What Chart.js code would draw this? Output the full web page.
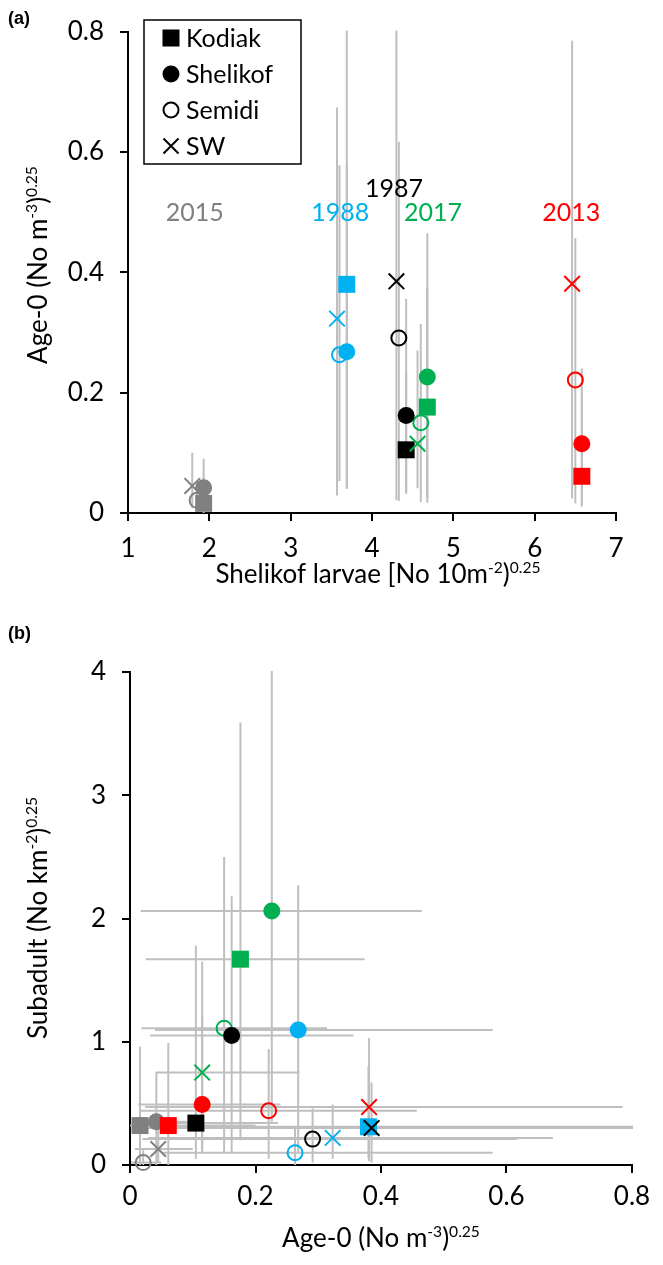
<!DOCTYPE html>
<html lang="en">
<head>
  <meta charset="UTF-8">
  <title>Larvae, age-0 and subadult indices</title>
  <script src="https://cdn.jsdelivr.net/npm/chart.js@4.4.0/dist/chart.umd.min.js"></script>
  <style>
    body { margin: 0; background: #fff; }
    .panel { position: absolute; left: 0; }
    #wrapA { top: 0; }
    #wrapB { top: 600px; }
  </style>
</head>
<body>
  <div class="panel" id="wrapA"><canvas id="chartA" width="663" height="600"></canvas></div>
  <div class="panel" id="wrapB"><canvas id="chartB" width="663" height="665"></canvas></div>

<script>
  // years (rows) x regions (columns)
  const regions = ['Kodiak', 'Shelikof', 'Semidi', 'SW'];
  const years = ['2015', '1988', '1987', '2017', '2013'];
  const yearColors = ['#808080', '#00B0F0', '#000000', '#00B050', '#FF0000'];

  // Shelikof larvae [No 10m-2]^0.25
  const larvae = [
    [1.93, 1.93, 1.85, 1.79],
    [3.69, 3.69, 3.60, 3.57],
    [4.42, 4.42, 4.33, 4.30],
    [4.68, 4.68, 4.60, 4.56],
    [6.58, 6.58, 6.50, 6.46]
  ];
  // Age-0 (No m-3)^0.25 and its range
  const age0 = [
    [0.016, 0.042, 0.021, 0.045],
    [0.380, 0.268, 0.263, 0.323],
    [0.105, 0.162, 0.291, 0.385],
    [0.176, 0.226, 0.150, 0.115],
    [0.061, 0.115, 0.221, 0.381]
  ];
  const age0Low = [
    [0.000, 0.005, 0.002, 0.008],
    [0.042, 0.040, 0.053, 0.029],
    [0.035, 0.032, 0.020, 0.021],
    [0.025, 0.017, 0.018, 0.041],
    [0.011, 0.013, 0.016, 0.024]
  ];
  const age0High = [
    [0.060, 0.090, 0.050, 0.100],
    [0.830, 0.578, 0.578, 0.674],
    [0.236, 0.356, 0.617, 0.830],
    [0.374, 0.465, 0.314, 0.270],
    [0.200, 0.240, 0.457, 0.785]
  ];
  // Subadult (No km-2)^0.25 and its range
  const subadult = [
    [0.32, 0.35, 0.02, 0.13],
    [0.31, 1.095, 0.10, 0.22],
    [0.34, 1.05, 0.21, 0.30],
    [1.67, 2.06, 1.11, 0.75],
    [0.32, 0.49, 0.44, 0.47]
  ];
  const subLow = [
    [0.00, 0.00, 0.00, 0.02],
    [0.05, 0.10, 0.00, 0.05],
    [0.05, 0.10, 0.02, 0.02],
    [0.20, 0.35, 0.10, 0.12],
    [0.00, 0.10, 0.05, 0.03]
  ];
  const subHigh = [
    [0.96, 0.75, 0.12, 0.30],
    [0.80, 2.27, 0.30, 0.49],
    [1.78, 2.18, 0.46, 0.67],
    [3.59, 4.30, 2.50, 1.65],
    [0.99, 1.20, 0.94, 1.03]
  ];

  // year label positions in panel (a), data units
  const yearLabelX = [1.82, 3.61, 4.27, 4.75, 6.45];
  const yearLabelY = [0.498, 0.498, 0.538, 0.498, 0.498];

  const FONT = 'Lato';
  const BAR_COLOR = '#BFBFBF';

  // marker look per region
  const markStyle = {
    Kodiak:   { pointStyle: 'rect',     r: 12,  bw: 0, open: false },
    Shelikof: { pointStyle: 'circle',   r: 8.5, bw: 0, open: false },
    Semidi:   { pointStyle: 'circle',   r: 7.5, bw: 2, open: true },
    SW:       { pointStyle: 'crossRot', r: 11,  bw: 2, open: false }
  };
  // drawn top-most first
  const drawOrder = ['SW', 'Kodiak', 'Shelikof', 'Semidi'];

  function buildDatasets(xArr, yArr) {
    return drawOrder.map(name => {
      const r = regions.indexOf(name);
      const s = markStyle[name];
      return {
        label: name,
        data: years.map((_, i) => ({ x: xArr[i][r], y: yArr[i][r] })),
        pointStyle: s.pointStyle,
        pointRadius: s.r,
        pointHoverRadius: s.r,
        pointBorderWidth: s.bw,
        pointBackgroundColor: s.open ? 'rgba(0,0,0,0)' : yearColors,
        pointBorderColor: yearColors,
        showLine: false,
        clip: false
      };
    });
  }

  // text with superscript parts, centred on (x, y)
  function richText(ctx, parts, x, y, size, vertical) {
    ctx.save();
    ctx.translate(x, y);
    if (vertical) ctx.rotate(-Math.PI / 2);
    ctx.fillStyle = '#000';
    ctx.textBaseline = 'alphabetic';
    ctx.textAlign = 'left';
    let total = 0;
    parts.forEach(p => {
      ctx.font = (p[1] ? size * 0.6 : size) + 'px ' + FONT;
      total += ctx.measureText(p[0]).width;
    });
    let cx = -total / 2;
    const base = size * 0.36;
    parts.forEach(p => {
      ctx.font = (p[1] ? size * 0.6 : size) + 'px ' + FONT;
      ctx.fillText(p[0], cx, p[1] ? base - size * 0.4 : base);
      cx += ctx.measureText(p[0]).width;
    });
    ctx.restore();
  }

  function errorBarPlugin(vBars, hBars) {
    return {
      id: 'errorBars',
      beforeDatasetsDraw(chart) {
        const { ctx, chartArea: a, scales } = chart;
        ctx.save();
        ctx.beginPath();
        ctx.rect(a.left, a.top - 1, a.right - a.left + 1, a.bottom - a.top + 1);
        ctx.clip();
        ctx.strokeStyle = BAR_COLOR;
        ctx.lineWidth = 2;
        vBars.forEach(b => {
          const px = scales.x.getPixelForValue(b[0]);
          ctx.beginPath();
          ctx.moveTo(px, scales.y.getPixelForValue(b[1]));
          ctx.lineTo(px, scales.y.getPixelForValue(b[2]));
          ctx.stroke();
        });
        hBars.forEach(b => {
          const py = scales.y.getPixelForValue(b[0]);
          ctx.beginPath();
          ctx.moveTo(scales.x.getPixelForValue(b[1]), py);
          ctx.lineTo(scales.x.getPixelForValue(b[2]), py);
          ctx.stroke();
        });
        ctx.restore();
      }
    };
  }

  function axisOpts(min, max, step, fit, pad) {
    return {
      type: 'linear', min, max,
      ticks: { stepSize: step, color: '#000', padding: pad, font: { family: FONT, size: 26 } },
      grid: { drawOnChartArea: false, drawTicks: true, tickLength: 8, color: '#000', lineWidth: 2 },
      border: { color: '#000', width: 2 },
      afterFit: fit
    };
  }

  function collect(fn) {
    const out = [];
    years.forEach((_, i) => regions.forEach((_, r) => out.push(fn(i, r))));
    return out;
  }

  function panelTag(ctx, text, y) {
    ctx.save();
    ctx.fillStyle = '#000';
    ctx.font = 'bold 18px "Liberation Sans"';
    ctx.textBaseline = 'middle';
    ctx.textAlign = 'left';
    ctx.fillText(text, 8, y);
    ctx.restore();
  }

  // ---- panel (a)
  const vBarsA = collect((i, r) => [larvae[i][r], age0Low[i][r], age0High[i][r]]);

  new Chart(document.getElementById('chartA'), {
    type: 'scatter',
    data: { datasets: buildDatasets(larvae, age0) },
    options: {
      responsive: false, animation: false,
      layout: { padding: { top: 18, right: 47, left: 0, bottom: 0 } },
      plugins: { legend: { display: false }, tooltip: { enabled: false } },
      scales: {
        x: axisOpts(1, 7, 1, s => { s.height = 87; }, 12),
        y: axisOpts(0, 0.8, 0.2, s => { s.width = 128; }, 16)
      }
    },
    plugins: [
      errorBarPlugin(vBarsA, []),
      {
        id: 'decorA',
        afterDraw(chart) {
          const { ctx, scales } = chart;
          // year labels
          ctx.save();
          ctx.font = '25px ' + FONT;
          ctx.textAlign = 'center';
          ctx.textBaseline = 'middle';
          years.forEach((yr, i) => {
            ctx.fillStyle = yearColors[i];
            ctx.fillText(yr, scales.x.getPixelForValue(yearLabelX[i]), scales.y.getPixelForValue(yearLabelY[i]));
          });
          // legend box
          ctx.fillStyle = '#fff';
          ctx.fillRect(144, 20, 157, 144);
          ctx.strokeStyle = '#000';
          ctx.lineWidth = 1.5;
          ctx.strokeRect(144, 20, 157, 144);
          const rowY = [38, 74, 110, 146];
          ctx.font = '25px ' + FONT;
          regions.forEach((name, k) => {
            const y = rowY[k], x = 171;
            ctx.fillStyle = '#000';
            ctx.strokeStyle = '#000';
            ctx.lineWidth = 2;
            if (name === 'Kodiak') ctx.fillRect(x - 8.5, y - 8.5, 17, 17);
            else if (name === 'Shelikof') { ctx.beginPath(); ctx.arc(x, y, 8.5, 0, Math.PI * 2); ctx.fill(); }
            else if (name === 'Semidi') { ctx.beginPath(); ctx.arc(x, y, 7.5, 0, Math.PI * 2); ctx.stroke(); }
            else {
              ctx.beginPath();
              ctx.moveTo(x - 7.5, y - 7.5); ctx.lineTo(x + 7.5, y + 7.5);
              ctx.moveTo(x + 7.5, y - 7.5); ctx.lineTo(x - 7.5, y + 7.5);
              ctx.stroke();
            }
            ctx.textAlign = 'left';
            ctx.fillText(name, 186, y + 1);
          });
          ctx.restore();
          panelTag(ctx, '(a)', 19);
          richText(ctx, [['Shelikof larvae [No 10m', 0], ['-2', 1], [')', 0], ['0.25', 1]], 378, 574, 26, false);
          richText(ctx, [['Age-0 (No m', 0], ['-3', 1], [')', 0], ['0.25', 1]], 38, 265, 26, true);
        }
      }
    ]
  });

  // ---- panel (b)
  const vBarsB = collect((i, r) => [age0[i][r], subLow[i][r], subHigh[i][r]]);
  const hBarsB = collect((i, r) => [subadult[i][r], age0Low[i][r], age0High[i][r]]);

  new Chart(document.getElementById('chartB'), {
    type: 'scatter',
    data: { datasets: buildDatasets(age0, subadult) },
    options: {
      responsive: false, animation: false,
      layout: { padding: { top: 72, right: 31, left: 0, bottom: 0 } },
      plugins: { legend: { display: false }, tooltip: { enabled: false } },
      scales: {
        x: axisOpts(0, 0.8, 0.2, s => { s.height = 100; }, 8),
        y: axisOpts(0, 4, 1, s => { s.width = 130; }, 16)
      }
    },
    plugins: [
      errorBarPlugin(vBarsB, hBarsB),
      {
        id: 'decorB',
        afterDraw(chart) {
          const { ctx } = chart;
          panelTag(ctx, '(b)', 34);
          richText(ctx, [['Age-0 (No m', 0], ['-3', 1], [')', 0], ['0.25', 1]], 381, 638, 26, false);
          richText(ctx, [['Subadult (No km', 0], ['-2', 1], [')', 0], ['0.25', 1]], 38, 318, 26, true);
        }
      }
    ]
  });
</script>
</body>
</html>
